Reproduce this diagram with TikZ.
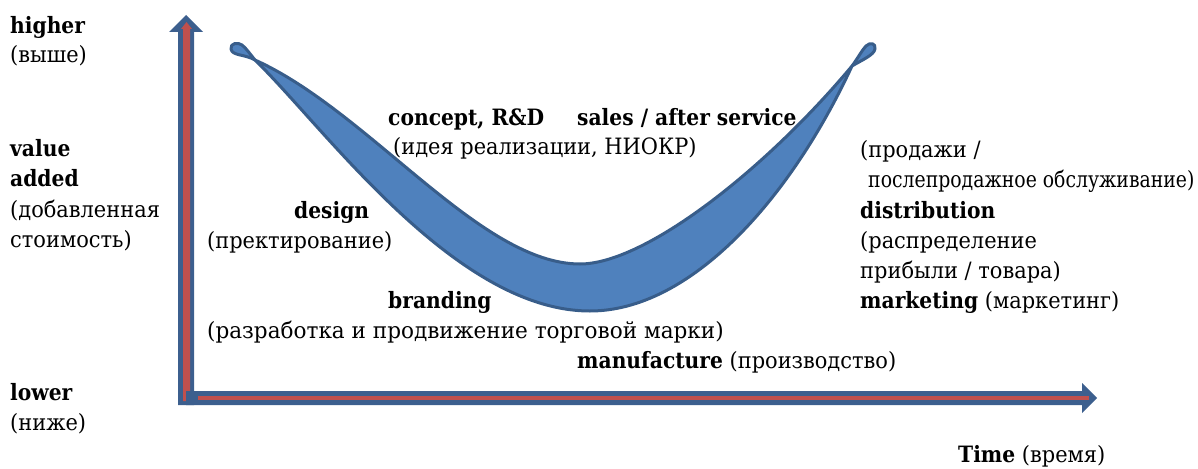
\documentclass[tikz,border=0pt]{standalone}
\usepackage{fontspec}
\setmainfont{DejaVu Serif}[FakeStretch=0.93]
\newfontfamily\bfam{DejaVu Serif Bold}[FakeStretch=0.9]
\definecolor{ribbonfill}{HTML}{4F81BD}
\definecolor{ribbonline}{HTML}{385D8A}
\definecolor{axisblue}{HTML}{3C5F8E}
\definecolor{axisred}{HTML}{C0504D}
\newcommand{\bt}[1]{{\bfam #1}}
\begin{document}
\begin{tikzpicture}[x=1pt,y=-1pt,
  lbl/.style={inner sep=0pt, anchor=base west, font=\fontsize{22.5}{30}\selectfont},
  ribbon/.style={fill=ribbonfill, draw=ribbonline, line width=3pt, line join=round}]
\useasboundingbox (0,0) rectangle (1198,468);
% axes
\fill[axisblue] (178,405) -- (178,32) -- (169,32) -- (186,15) -- (203,32) -- (194,32) -- (194,405) -- cycle;
\fill[axisred] (183,401) -- (183,29) -- (181,29) -- (186.5,22) -- (192,29) -- (190,29) -- (190,401) -- cycle;
\fill[axisblue] (186,391) -- (1082,391) -- (1082,383) -- (1097,398) -- (1082,413) -- (1082,405) -- (186,405) -- cycle;
\fill[axisred] (198,396) -- (1089,396) -- (1089,400) -- (198,400) -- cycle;
% ribbon
\coordinate (cl) at (255,60);
\coordinate (cr) at (852,66);
\path[ribbon] (cl) .. controls (325,128) and (455,311) .. (590,311)
  .. controls (690,311) and (790,200) .. (cr)
  .. controls (765,170) and (645,264) .. (580,264)
  .. controls (480,264) and (370,112) .. (cl) -- cycle;
\path[ribbon] (cl) .. controls (245,54) and (232,56) .. (231,49)
  .. controls (230,43) and (238,42) .. (242,45)
  .. controls (246,48) and (250,54) .. (cl) -- cycle;
\path[ribbon] (cr) .. controls (858,58) and (862,50) .. (866,46)
  .. controls (870,42) and (876,43) .. (875,49)
  .. controls (874,55) and (862,60) .. (cr) -- cycle;
% labels
\node[lbl] (higher) at (10,34) {\bt{higher}};
\node[lbl] (vyshe) at (10,63) {(выше)};
\node[lbl] (value) at (10,156) {\bt{value}};
\node[lbl] (added) at (10,186) {\bt{added}};
\node[lbl] (dobav) at (10,217) {(добавленная};
\node[lbl] (stoim) at (10,247) {стоимость)};
\node[lbl] (lower) at (10,400) {\bt{lower}};
\node[lbl] (nizhe) at (10,430) {(ниже)};
\node[lbl] (concept) at (388,125) {\bt{concept, R\&D}};
\node[lbl] (sales) at (577,125) {\bt{sales / after service}};
\node[lbl] (ideya) at (393,154) {(идея реализации, НИОКР)};
\node[lbl] (prodazhi) at (860,157) {(продажи /};
\node[lbl] (posle) at (868,187) {\scalebox{0.9}[1]{послепродажное обслуживание)}};
\node[lbl] (distrib) at (860,218) {\bt{distribution}};
\node[lbl] (raspred) at (860,248) {(распределение};
\node[lbl] (pribyl) at (860,278) {прибыли / товара)};
\node[lbl] (marketing) at (860,308) {\bt{marketing} (маркетинг)};
\node[lbl] (design) at (294,218) {\bt{design}};
\node[lbl] (proekt) at (207,248) {(пректирование)};
\node[lbl] (branding) at (388,308) {\bt{branding}};
\node[lbl] (razrab) at (207,338) {\scalebox{1.03}[1]{(разработка и продвижение торговой марки)}};
\node[lbl] (manuf) at (577,368) {\bt{manufacture} (производство)};
\node[lbl] (time) at (958,462) {\bt{Time} (время)};
\end{tikzpicture}
\end{document}
